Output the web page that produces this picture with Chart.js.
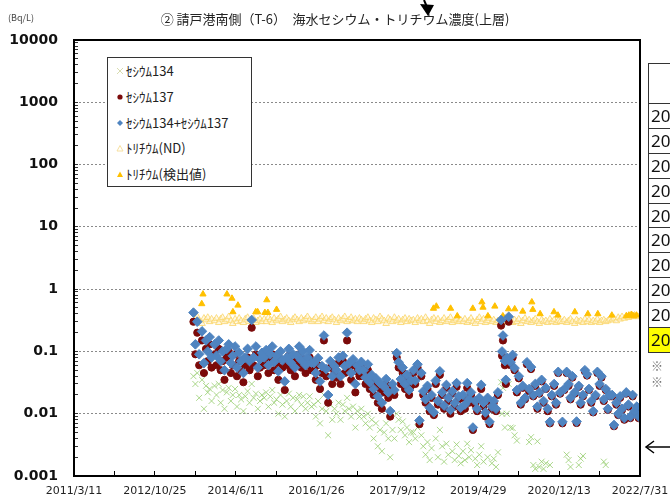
<!DOCTYPE html>
<html>
<head>
<meta charset="utf-8">
<script src="https://cdn.jsdelivr.net/npm/chart.js"></script>
<style>
  body { margin: 0; background: #fff; }
  #wrap { position: relative; width: 670px; height: 498px; overflow: hidden; background: #fff; }
  #wrap canvas { position: absolute; left: 0; top: 0; }
  .txt { position: absolute; font-family: "Noto Sans CJK JP", sans-serif; white-space: nowrap; }
  #unit { left: 8px; top: 11px; font-size: 9px; color: #444; }
  #title { left: 0; width: 670px; top: 10px; text-align: center; font-size: 13px; line-height: 18px; color: #222; }
  #legend { position: absolute; left: 107px; top: 57px; width: 143px; height: 128px; border: 1px solid #333; background: #fff; }
  #legend .row { position: absolute; left: 0; height: 26px; line-height: 26px; font-family: "Noto Sans CJK JP", sans-serif; font-size: 13px; color: #222; }
  #legend svg { position: absolute; left: 7px; top: 8px; }
  #legend span { position: absolute; left: 18px; white-space: nowrap; }
  #table { position: absolute; left: 648px; top: 63px; width: 40px; border-left: 1px solid #333; border-top: 1px solid #333; }
  #table div { border-bottom: 1px solid #333; height: 23.9px; line-height: 24px; font-family: "Noto Sans", sans-serif; font-size: 17px; color: #111; padding-left: 2px; }
  #table div.head { height: 39px; }
  #table div.hl { background: #ffff00; }
  .mark { position: absolute; left: 651px; font-size: 12px; color: #777; font-family: "Noto Sans CJK JP", sans-serif; }
</style>
</head>
<body>
<div id="wrap">
  <canvas id="chart" width="670" height="498"></canvas>
  <div class="txt" id="unit">(Bq/L)</div>
  <div class="txt" id="title">② 請戸港南側（T-6）　海水セシウム・トリチウム濃度(上層)</div>
  <div id="legend"></div>
  <div id="table">
    <div class="head"></div>
    <div>20</div><div>20</div><div>20</div><div>20</div><div>20</div>
    <div>20</div><div>20</div><div>20</div><div>20</div>
    <div class="hl">20</div>
  </div>
  <div class="mark" style="top:357px">※</div>
  <div class="mark" style="top:373px">※</div>
  <svg style="position:absolute;left:0;top:0" width="670" height="498">
    <line x1="424" y1="0" x2="427" y2="7" stroke="#000" stroke-width="2"/>
    <polygon points="420,4 434,5 428,16" fill="#000"/>
    <line x1="646" y1="447" x2="670" y2="447" stroke="#000" stroke-width="1.5"/>
    <polyline points="654,441 646,447 654,453" fill="none" stroke="#000" stroke-width="1.5"/>
  </svg>
</div>
<script>
// axis labels
const xTickLabels = ['2011/3/11', '2012/10/25', '2014/6/11', '2016/1/26', '2017/9/12', '2019/4/29', '2020/12/13', '2022/7/31'];
const yTickLabels = ['0.001', '0.01', '0.1', '1', '10', '100', '1000', '10000'];

const seriesNames = ['ｾｼｳﾑ134', 'ｾｼｳﾑ137', 'ｾｼｳﾑ134+ｾｼｳﾑ137', 'ﾄﾘﾁｳﾑ(ND)', 'ﾄﾘﾁｳﾑ(検出値)'];

// sampling dates (cesium + tritium ND)
const sampleDates = [
  '2013/08/05', '2013/08/19', '2013/09/02', '2013/09/16', '2013/10/07', '2013/10/21', '2013/11/05', '2013/11/18', '2013/12/02', '2013/12/16',
  '2014/01/07', '2014/01/21', '2014/02/07', '2014/02/21', '2014/03/07', '2014/03/21', '2014/04/07', '2014/04/21', '2014/05/07', '2014/05/21', '2014/06/07', '2014/06/21',
  '2014/07/07', '2014/07/21', '2014/08/07', '2014/08/21', '2014/09/07', '2014/09/21', '2014/10/07', '2014/10/21', '2014/11/07', '2014/11/21', '2014/12/07', '2014/12/21',
  '2015/01/07', '2015/01/21', '2015/02/07', '2015/02/21', '2015/03/07', '2015/03/21', '2015/04/07', '2015/04/21', '2015/05/07', '2015/05/21', '2015/06/07', '2015/06/21',
  '2015/07/07', '2015/07/21', '2015/08/07', '2015/08/21', '2015/09/07', '2015/09/21', '2015/10/07', '2015/10/21', '2015/11/07', '2015/11/21', '2015/12/07', '2015/12/21',
  '2016/01/07', '2016/01/21', '2016/02/07', '2016/02/21', '2016/03/07', '2016/03/21', '2016/04/07', '2016/04/21', '2016/05/07', '2016/05/21', '2016/06/07', '2016/06/21',
  '2016/07/07', '2016/07/21', '2016/08/07', '2016/08/21', '2016/09/07', '2016/09/21', '2016/10/07', '2016/10/21', '2016/11/07', '2016/11/21', '2016/12/07', '2016/12/21',
  '2017/01/07', '2017/01/21', '2017/02/07', '2017/02/21', '2017/03/07', '2017/03/21', '2017/04/07', '2017/04/21', '2017/05/07', '2017/05/21', '2017/06/07', '2017/06/21',
  '2017/07/07', '2017/07/21', '2017/08/07', '2017/08/21', '2017/09/07', '2017/09/21', '2017/10/07', '2017/10/21', '2017/11/07', '2017/11/21', '2017/12/07', '2017/12/21',
  '2018/01/07', '2018/01/21', '2018/02/07', '2018/02/21', '2018/03/07', '2018/03/21', '2018/04/07', '2018/04/21', '2018/05/07', '2018/05/21', '2018/06/07', '2018/06/21',
  '2018/07/07', '2018/07/21', '2018/08/07', '2018/08/21', '2018/09/07', '2018/09/21', '2018/10/07', '2018/10/21', '2018/11/07', '2018/11/21', '2018/12/07', '2018/12/21',
  '2019/01/07', '2019/01/21', '2019/02/07', '2019/02/21', '2019/03/07', '2019/03/21', '2019/04/07', '2019/04/21', '2019/05/07', '2019/05/21', '2019/06/07', '2019/06/21',
  '2019/07/07', '2019/07/21', '2019/08/07', '2019/08/21', '2019/09/07', '2019/09/21',
  '2019/10/14', '2019/10/21', '2019/10/28', '2019/11/11', '2019/11/18', '2019/11/25', '2019/12/09', '2019/12/23',
  '2020/01/07', '2020/01/21', '2020/02/07', '2020/02/21', '2020/03/07', '2020/03/21', '2020/04/07', '2020/04/21', '2020/05/07', '2020/05/21', '2020/06/07', '2020/06/21',
  '2020/07/07', '2020/07/21', '2020/08/07', '2020/08/21', '2020/09/07', '2020/09/21', '2020/10/07', '2020/10/21', '2020/11/07', '2020/11/21', '2020/12/07', '2020/12/21',
  '2021/01/07', '2021/01/21', '2021/02/07', '2021/02/21', '2021/03/07', '2021/03/21', '2021/04/07', '2021/04/21', '2021/05/07', '2021/05/21', '2021/06/07', '2021/06/21',
  '2021/07/07', '2021/07/21', '2021/08/07', '2021/08/21', '2021/09/07', '2021/09/21', '2021/10/07', '2021/10/21', '2021/11/07', '2021/11/21', '2021/12/07', '2021/12/21',
  '2022/01/07', '2022/01/21', '2022/02/07', '2022/02/21', '2022/03/07', '2022/03/21', '2022/04/07', '2022/04/21', '2022/05/07', '2022/05/21', '2022/06/07', '2022/06/21',
  '2022/07/07', '2022/07/21'
];

// Cs-134 (null = not detected)
const cs134 = [
  0.04, 0.03, 0.045, 0.018, 0.035, 0.012, 0.028, 0.022, 0.025, 0.016,
  0.028, 0.02, 0.03, 0.015, 0.024, 0.012, 0.022, 0.026, 0.016, 0.02, 0.025, 0.013, 0.02, 0.017, 0.011, 0.019, 0.023, 0.015, 0.03, 0.018, 0.021, 0.012, 0.016, 0.02,
  0.018, 0.022, 0.013, 0.019, 0.024, 0.015, 0.017, 0.01, 0.02, 0.014, 0.009, 0.016, 0.021, 0.013, 0.018, 0.011, 0.017, 0.02, 0.014, 0.019, 0.012, 0.015, 0.019, 0.013,
  0.014, 0.009, 0.016, 0.007, 0.012, 0.02, 0.011, 0.0045, 0.014, 0.008, 0.012, 0.01, 0.015, 0.008, 0.014, 0.011, 0.018, 0.012, 0.009, 0.013, 0.006, 0.011, 0.009, 0.012,
  0.009, 0.007, 0.01, 0.006, 0.008, 0.004, 0.007, 0.003, 0.0055, 0.0025, 0.005, 0.007, 0.004, 0.002, 0.0055, 0.004, 0.01, 0.008, 0.0055, 0.0075, 0.0045, 0.006, 0.0035, 0.005,
  0.005, 0.004, 0.006, null, 0.0045, 0.003, 0.0022, 0.0035, 0.0018, 0.0028, null, 0.004, 0.002, 0.0055, 0.003, 0.0017, 0.0033, 0.0022, null, 0.0025, 0.0018, 0.0032, 0.0021, 0.0016,
  0.0025, 0.0018, 0.0033, 0.002, 0.0026, null, 0.0019, 0.0015, 0.0022, 0.003, 0.0017, null, 0.002, null, 0.0016, 0.0019, 0.0014, 0.0024,
  0.032, 0.01, 0.026, 0.006, null, 0.01, 0.03, 0.006,
  0.0059, 0.0045, 0.0037, null, null, null, null, null, 0.0035, 0.0042, 0.0015, 0.0013, 0.0036, 0.0014, 0.0017, 0.0013, 0.0016, null, 0.0015, null, null, null, null, null,
  null, null, 0.0022, 0.0018, 0.0014, null, null, null, 0.0015, 0.0019, 0.0021, null, null, null, null, null, null, null, null, null, 0.0017, 0.0015, null, null,
  null, null, null, null, null, null, null, null, null, null, null, null, null, null
];

// Cs-137
const cs137 = [
  0.30, 0.09, 0.20, 0.06, 0.15, 0.045, 0.11, 0.07, 0.13, 0.055,
  0.09, 0.06, 0.11, 0.05, 0.07, 0.035, 0.08, 0.10, 0.045, 0.06, 0.09, 0.04, 0.07, 0.05, 0.032, 0.06, 0.08, 0.05, 0.24, 0.06, 0.09, 0.04, 0.055, 0.07,
  0.06, 0.08, 0.045, 0.07, 0.09, 0.05, 0.065, 0.035, 0.075, 0.055, 0.024, 0.06, 0.085, 0.05, 0.07, 0.04, 0.065, 0.09, 0.055, 0.075, 0.045, 0.06, 0.08, 0.05,
  0.05, 0.035, 0.06, 0.025, 0.045, 0.15, 0.04, 0.015, 0.055, 0.03, 0.045, 0.038, 0.065, 0.03, 0.07, 0.045, 0.15, 0.05, 0.035, 0.06, 0.022, 0.048, 0.04, 0.055,
  0.04, 0.03, 0.05, 0.025, 0.035, 0.02, 0.03, 0.015, 0.025, 0.012, 0.022, 0.03, 0.018, 0.009, 0.025, 0.02, 0.08, 0.055, 0.03, 0.045, 0.025, 0.035, 0.02, 0.028,
  0.045, 0.03, 0.055, 0.0068, 0.04, 0.02, 0.015, 0.025, 0.011, 0.018, 0.0095, 0.03, 0.014, 0.042, 0.02, 0.012, 0.026, 0.016, 0.01, 0.021, 0.013, 0.027, 0.017, 0.011,
  0.018, 0.012, 0.026, 0.015, 0.02, 0.0055, 0.014, 0.011, 0.017, 0.025, 0.013, 0.009, 0.016, 0.0068, 0.012, 0.015, 0.011, 0.02,
  0.26, 0.085, 0.15, 0.06, 0.03, 0.07, 0.30, 0.06,
  0.08, 0.05, 0.022, 0.037, 0.014, 0.026, 0.017, 0.062, 0.023, 0.052, 0.019, 0.028, 0.012, 0.021, 0.033, 0.015, 0.025, 0.011, 0.007, 0.019, 0.028, 0.014, 0.045, 0.021,
  0.007, 0.024, 0.045, 0.028, 0.017, 0.038, 0.021, 0.0071, 0.027, 0.014, 0.019, 0.048, 0.041, 0.024, 0.015, 0.0105, 0.019, 0.045, 0.028, 0.038, 0.016, 0.024, 0.0115, 0.019,
  0.019, 0.0063, 0.014, 0.0095, 0.018, 0.0115, 0.008, 0.021, 0.013, 0.0085, 0.019, 0.0105, 0.0125, 0.0085
];

// Cs-134 + Cs-137
const csSum = [
  0.42, 0.13, 0.30, 0.09, 0.21, 0.065, 0.15, 0.10, 0.17, 0.08,
  0.13, 0.085, 0.15, 0.07, 0.10, 0.05, 0.11, 0.13, 0.065, 0.085, 0.12, 0.055, 0.095, 0.07, 0.045, 0.08, 0.11, 0.07, 0.32, 0.08, 0.12, 0.055, 0.075, 0.095,
  0.08, 0.105, 0.06, 0.09, 0.12, 0.068, 0.085, 0.048, 0.10, 0.072, 0.033, 0.08, 0.11, 0.066, 0.09, 0.055, 0.085, 0.12, 0.072, 0.10, 0.06, 0.08, 0.105, 0.066,
  0.065, 0.045, 0.078, 0.033, 0.058, 0.18, 0.052, 0.02, 0.07, 0.04, 0.058, 0.05, 0.08, 0.04, 0.085, 0.058, 0.20, 0.064, 0.045, 0.075, 0.03, 0.06, 0.05, 0.068,
  0.05, 0.038, 0.062, 0.032, 0.042, 0.025, 0.037, 0.019, 0.031, 0.015, 0.027, 0.036, 0.022, 0.011, 0.03, 0.024, 0.094, 0.067, 0.036, 0.055, 0.03, 0.042, 0.024, 0.034,
  0.05, 0.034, 0.062, 0.0078, 0.045, 0.023, 0.017, 0.028, 0.0125, 0.02, 0.0105, 0.034, 0.016, 0.048, 0.022, 0.0135, 0.029, 0.018, 0.0115, 0.023, 0.015, 0.031, 0.019, 0.0125,
  0.02, 0.014, 0.031, 0.017, 0.022, 0.006, 0.016, 0.012, 0.018, 0.029, 0.015, 0.0105, 0.018, 0.0074, 0.013, 0.016, 0.012, 0.022,
  0.32, 0.10, 0.18, 0.07, 0.035, 0.08, 0.36, 0.067,
  0.088, 0.054, 0.024, 0.04, 0.015, 0.028, 0.018, 0.067, 0.025, 0.056, 0.02, 0.03, 0.013, 0.022, 0.035, 0.016, 0.026, 0.012, 0.0074, 0.02, 0.03, 0.015, 0.047, 0.022,
  0.0074, 0.025, 0.047, 0.03, 0.018, 0.04, 0.022, 0.0075, 0.028, 0.015, 0.02, 0.05, 0.043, 0.025, 0.016, 0.011, 0.02, 0.047, 0.03, 0.04, 0.017, 0.025, 0.012, 0.02,
  0.02, 0.0066, 0.015, 0.01, 0.019, 0.012, 0.0085, 0.022, 0.014, 0.009, 0.02, 0.011, 0.013, 0.009
];

// tritium below detection limit (plotted at the limit)
const tritiumND = [
  0.30, 0.33, 0.36, 0.31, 0.28, 0.34, 0.32, 0.35, 0.30, 0.33,
  0.31, 0.34, 0.29, 0.33, 0.35, 0.30, 0.32, 0.36, 0.31, 0.28, 0.33, 0.30, 0.34, 0.31, 0.29, 0.33, 0.35, 0.30, 0.32, 0.34, 0.29, 0.31, 0.33, 0.30,
  0.33, 0.30, 0.35, 0.32, 0.29, 0.34, 0.31, 0.33, 0.36, 0.30, 0.32, 0.34, 0.31, 0.29, 0.33, 0.35, 0.32, 0.30, 0.34, 0.31, 0.33, 0.36, 0.32, 0.30,
  0.32, 0.35, 0.30, 0.33, 0.36, 0.31, 0.34, 0.30, 0.33, 0.35, 0.32, 0.29, 0.34, 0.31, 0.33, 0.36, 0.30, 0.32, 0.35, 0.31, 0.33, 0.30, 0.34, 0.32,
  0.30, 0.33, 0.35, 0.31, 0.29, 0.34, 0.32, 0.30, 0.36, 0.33, 0.31, 0.28, 0.34, 0.32, 0.30, 0.35, 0.31, 0.33, 0.29, 0.32, 0.34, 0.30, 0.33, 0.31,
  0.32, 0.29, 0.34, 0.31, 0.33, 0.30, 0.35, 0.31, 0.28, 0.32, 0.34, 0.30, 0.33, 0.29, 0.31, 0.34, 0.30, 0.32, 0.35, 0.29, 0.31, 0.33, 0.30, 0.32,
  0.30, 0.33, 0.29, 0.31, 0.34, 0.30, 0.28, 0.32, 0.35, 0.30, 0.33, 0.29, 0.31, 0.34, 0.30, 0.32, 0.29, 0.31,
  0.33, 0.30, 0.32, 0.34, 0.29, 0.31, 0.33, 0.30,
  0.29, 0.32, 0.30, 0.33, 0.28, 0.31, 0.34, 0.30, 0.32, 0.29, 0.31, 0.33, 0.30, 0.28, 0.32, 0.30, 0.31, 0.29, 0.33, 0.30, 0.32, 0.29, 0.31, 0.30,
  0.30, 0.32, 0.29, 0.31, 0.33, 0.30, 0.28, 0.32, 0.30, 0.31, 0.29, 0.33, 0.30, 0.32, 0.29, 0.31, 0.30, 0.33, 0.29, 0.31, 0.32, 0.30, 0.31, 0.33,
  0.32, 0.34, 0.31, 0.35, 0.33, 0.36, 0.34, 0.37, 0.35, 0.38, 0.36, 0.38, 0.37, 0.36
];

// tritium detected values
const tritiumDates = [
  '2013/10/05', '2013/10/14', '2014/04/08', '2014/05/15', '2014/05/22', '2014/06/28', '2014/11/06', '2014/11/20', '2015/01/12', '2015/01/26',
  '2015/02/03', '2015/04/08', '2018/06/04', '2018/06/25', '2018/10/08', '2018/11/26', '2019/03/20', '2019/05/26', '2019/06/03', '2019/07/09',
  '2019/08/29', '2019/10/27', '2019/12/08', '2020/01/22', '2020/03/21', '2020/05/27', '2020/06/03', '2020/07/27', '2020/11/06', '2020/12/05',
  '2021/04/08', '2021/07/13', '2021/09/24', '2022/01/05', '2022/04/22', '2022/05/10', '2022/05/30', '2022/06/15', '2022/07/05'
];
const tritiumDet = [
  0.58, 0.83, 0.83, 0.71, 0.43, 0.55, 0.43, 0.43, 0.42, 0.67,
  0.42, 0.47, 0.49, 0.53, 0.49, 0.37, 0.49, 0.62, 0.51, 0.37,
  0.53, 0.37, 0.48, 0.48, 0.44, 0.62, 0.47, 0.40, 0.43, 0.38,
  0.43, 0.40, 0.40, 0.38, 0.37, 0.38, 0.39, 0.37, 0.38
];

// days since the first axis date
const origin = xTickLabels[0].split('/').map(Number);
function dayOf(s) {
  const [y, m, d] = s.split('/').map(Number);
  return (Date.UTC(y, m - 1, d) - Date.UTC(origin[0], origin[1] - 1, origin[2])) / 864e5;
}
function toPoints(dates, vals) {
  return dates.map((s, i) => ({ x: dayOf(s), y: vals[i] })).filter(p => p.y != null);
}

const xMax = dayOf(xTickLabels[xTickLabels.length - 1]);
const xStep = dayOf(xTickLabels[1]) / 2;

const isDecade = v => Math.abs(Math.log10(v) - Math.round(Math.log10(v))) < 1e-6;

const styles = [
  { pointStyle: 'crossRot', pointRadius: 4.2, borderColor: 'rgba(150,205,110,0.8)', backgroundColor: 'rgba(150,205,110,0.8)', borderWidth: 1, order: 4 },
  { pointStyle: 'circle', pointRadius: 3.6, borderColor: '#7b0a0a', backgroundColor: '#7b0a0a', borderWidth: 1, order: 1 },
  { pointStyle: 'rectRot', pointRadius: 4.8, borderColor: '#4f84c0', backgroundColor: '#4f84c0', borderWidth: 1, order: 0 },
  { pointStyle: 'triangle', pointRadius: 3.8, borderColor: 'rgba(250,215,110,0.85)', backgroundColor: 'rgba(255,244,210,0.6)', borderWidth: 1, order: 3 },
  { pointStyle: 'triangle', pointRadius: 3.6, borderColor: '#ffc000', backgroundColor: '#ffc000', borderWidth: 1, order: 2 }
];
const seriesData = [
  toPoints(sampleDates, cs134),
  toPoints(sampleDates, cs137),
  toPoints(sampleDates, csSum),
  toPoints(sampleDates, tritiumND),
  toPoints(tritiumDates, tritiumDet)
];

// legend box (html)
const legendMarks = [
  '<path d="M2,2 L8,8 M8,2 L2,8" stroke="#d8dcb0" stroke-width="1"/>',
  '<circle cx="5" cy="5" r="2.6" fill="#7b0a0a"/>',
  '<path d="M5,2 L8,5 L5,8 L2,5 Z" fill="#4f84c0"/>',
  '<path d="M5,2.5 L8,8 L2,8 Z" fill="none" stroke="#f7e0a0" stroke-width="1"/>',
  '<path d="M5,2.5 L8,8 L2,8 Z" fill="#ffc000"/>'
];
const legendEl = document.getElementById('legend');
seriesNames.forEach((name, i) => {
  const row = document.createElement('div');
  row.className = 'row';
  row.style.top = (i * 25.8) + 'px';
  row.innerHTML = '<svg width="10" height="10">' + legendMarks[i] + '</svg><span>' + name + '</span>';
  legendEl.appendChild(row);
});

const framePlugin = {
  id: 'frame',
  afterDraw(chart) {
    const { ctx, chartArea: a } = chart;
    ctx.save();
    ctx.strokeStyle = '#000';
    ctx.lineWidth = 2;
    ctx.strokeRect(a.left, a.top, a.right - a.left, a.bottom - a.top);
    ctx.restore();
  }
};

new Chart(document.getElementById('chart'), {
  type: 'scatter',
  data: {
    datasets: seriesNames.map((name, i) => Object.assign({ label: name, data: seriesData[i] }, styles[i]))
  },
  options: {
    responsive: false,
    animation: false,
    layout: { padding: { left: 0, right: 30, top: 40, bottom: 0 } },
    plugins: {
      legend: { display: false },
      tooltip: { enabled: false },
      title: { display: false }
    },
    scales: {
      x: {
        type: 'linear',
        min: 0,
        max: xMax,
        afterFit(scale) {
          scale.height = 22;
          scale.paddingLeft = 0;
          scale.paddingRight = 0;
        },
        grid: { drawOnChartArea: false, tickLength: -5, tickColor: '#000', tickWidth: 1 },
        border: { display: true, color: '#000', width: 2 },
        ticks: {
          stepSize: xStep,
          autoSkip: false,
          maxRotation: 0,
          padding: 14,
          color: '#222',
          font: { family: 'DejaVu Sans', size: 11 },
          callback: (v, i) => (i % 2 === 0 ? xTickLabels[i / 2] : '')
        }
      },
      y: {
        type: 'logarithmic',
        min: Number(yTickLabels[0]),
        max: Number(yTickLabels[yTickLabels.length - 1]),
        afterFit(scale) {
          scale.width = 74;
          scale.paddingTop = 0;
          scale.paddingBottom = 0;
        },
        afterBuildTicks(scale) {
          const ticks = [];
          yTickLabels.forEach((lab, k) => {
            const base = Number(lab);
            ticks.push({ value: base });
            if (k < yTickLabels.length - 1) {
              for (let m = 2; m <= 9; m++) ticks.push({ value: base * m });
            }
          });
          scale.ticks = ticks;
        },
        grid: {
          color: c => (c.tick && isDecade(c.tick.value) ? '#8a8a8a' : 'rgba(0,0,0,0)'),
          lineWidth: 1,
          tickLength: -4,
          tickColor: '#333',
          tickBorderDash: []
        },
        border: { display: true, color: '#000', width: 2, dash: [2, 2] },
        ticks: {
          autoSkip: false,
          padding: 20,
          color: '#111',
          font: { family: 'DejaVu Sans', size: 14, weight: 'bold' },
          callback: v => (isDecade(v) ? yTickLabels[Math.round(Math.log10(v)) + 3] : '')
        }
      }
    }
  },
  plugins: [framePlugin]
});
</script>
</body>
</html>
